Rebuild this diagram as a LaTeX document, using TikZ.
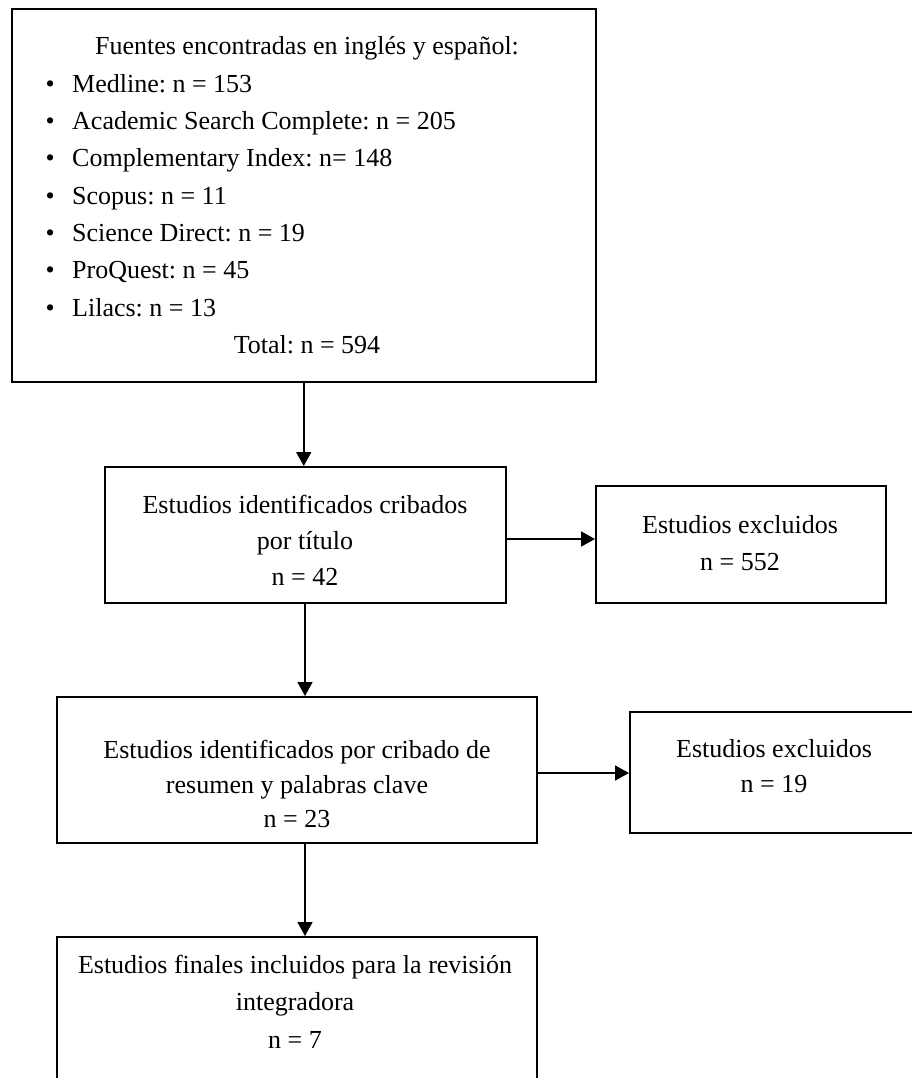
\documentclass[tikz,border=0pt]{standalone}
\usepackage{fontspec}
\setmainfont{Liberation Serif}
\usetikzlibrary{arrows.meta}
\frenchspacing
\begin{document}
\begin{tikzpicture}[x=1pt,y=-1pt,
  box/.style={draw, line width=2pt, inner sep=0pt, rectangle},
  arr/.style={line width=1.8pt, -{Triangle[length=14pt,width=15pt]}},
  txt/.style={anchor=base, inner sep=0pt, font=\fontsize{26}{37}\selectfont},
  itm/.style={txt, anchor=base west}]
\useasboundingbox (0,0) rectangle (912,1078);
\clip (0,0) rectangle (912,1078);
\newcommand{\bul}{\makebox[26.5pt][l]{\textbullet}}
% boxes
\node[box, minimum width=584.5pt, minimum height=373pt] (src) at (303.75,195.5) {};
\node[box, minimum width=401pt, minimum height=136pt] (title) at (305.5,535) {};
\node[box, minimum width=290pt, minimum height=117pt] (excl1) at (741,544.5) {};
\node[box, minimum width=480pt, minimum height=146pt] (abstract) at (297,770) {};
\node[box, minimum width=288pt, minimum height=121pt] (excl2) at (774,772.5) {};
\node[box, minimum width=480pt, minimum height=163pt] (final) at (297,1018.5) {};
% source box text
\node[txt] (hdr) at (307,55) {Fuentes encontradas en inglés y español:};
\node[itm] (i1) at (45.5,92.5) {\bul Medline: n = 153};
\node[itm] (i2) at (45.5,129.8) {\bul Academic Search Complete: n = 205};
\node[itm] (i3) at (45.5,167) {\bul Complementary Index: n= 148};
\node[itm] (i4) at (45.5,204.3) {\bul Scopus: n = 11};
\node[itm] (i5) at (45.5,241.5) {\bul Science Direct: n = 19};
\node[itm] (i6) at (45.5,278.8) {\bul ProQuest: n = 45};
\node[itm] (i7) at (45.5,316) {\bul Lilacs: n = 13};
\node[txt] (tot) at (307,353) {Total: n = 594};
% title box
\node[txt] (ta) at (305,513) {Estudios identificados cribados};
\node[txt] (tb) at (305,549) {por título};
\node[txt] (tc) at (305,585) {n = 42};
% excluded 1
\node[txt] (ea) at (740,533) {Estudios excluidos};
\node[txt] (eb) at (740,570) {n = 552};
% abstract box
\node[txt] (aa) at (297,758) {Estudios identificados por cribado de};
\node[txt] (ab) at (297,793) {resumen y palabras clave};
\node[txt] (ac) at (297,827) {n = 23};
% excluded 2
\node[txt] (xa) at (774,757) {Estudios excluidos};
\node[txt] (xb) at (774,792) {n = 19};
% final box
\node[txt] (fa) at (295,973) {Estudios finales incluidos para la revisión};
\node[txt] (fb) at (295,1010) {integradora};
\node[txt] (fc) at (295,1048) {n = 7};
% connectors
\draw[arr] (src.south) -- (src.south |- title.north);
\draw[arr] ([yshift=-4pt]title.east) -- ([yshift=-4pt]title.east -| excl1.west);
\draw[arr] ([xshift=-0.5pt]title.south) -- ([xshift=-0.5pt]title.south |- abstract.north);
\draw[arr] ([yshift=-0.5pt]abstract.east |- excl2.west) -- ([yshift=-0.5pt]excl2.west);
\draw[arr] ([xshift=8pt]abstract.south) -- ([xshift=8pt]abstract.south |- final.north);
\end{tikzpicture}
\end{document}
